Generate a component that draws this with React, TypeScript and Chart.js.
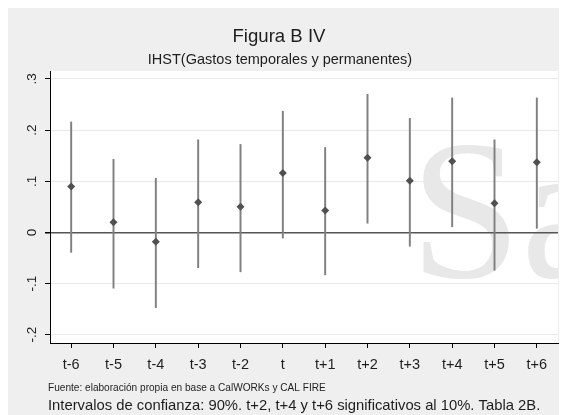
import React, { useEffect, useRef } from "react";
import { Chart, registerables } from "chart.js";

Chart.register(...registerables);

const periods = ["t-6", "t-5", "t-4", "t-3", "t-2", "t", "t+1", "t+2", "t+3", "t+4", "t+5", "t+6"];
const estimates = [0.09, 0.02, -0.018, 0.059, 0.05, 0.116, 0.043, 0.146, 0.101, 0.139, 0.057, 0.137];
const lowerCI = [-0.039, -0.109, -0.147, -0.069, -0.077, -0.011, -0.083, 0.018, -0.027, 0.011, -0.074, 0.008];
const upperCI = [0.216, 0.143, 0.106, 0.181, 0.172, 0.237, 0.166, 0.27, 0.223, 0.263, 0.181, 0.263];
const yTickValues = [-0.2, -0.1, 0, 0.1, 0.2, 0.3];
const yTickLabels = ["-.2", "-.1", "0", ".1", ".2", ".3"];
const titleText = "Figura B IV";
const subtitleText = "IHST(Gastos temporales y permanentes)";
const sourceNote = "Fuente: elaboración propia en base a CalWORKs y CAL FIRE";
const ciNote = "Intervalos de confianza: 90%. t+2, t+4 y t+6 significativos al 10%. Tabla 2B.";
const watermarkText = "Sa";

const SANS = '"Liberation Sans", Arial, sans-serif';
const TEXT = "#1e1e1e";

const decorPlugin = {
  id: "decor",
  beforeDraw(chart: any) {
    const { ctx, chartArea: a, width, height } = chart;
    ctx.save();
    ctx.fillStyle = "#efefef";
    ctx.fillRect(0, 0, width, height);
    ctx.fillStyle = "#ffffff";
    ctx.fillRect(a.left, a.top, a.right - a.left, a.bottom - a.top);
    ctx.beginPath();
    ctx.rect(a.left, a.top, a.right - a.left, a.bottom - a.top);
    ctx.clip();
    ctx.fillStyle = "#e8e8e8";
    ctx.font = '200px "Liberation Serif", "Times New Roman", serif';
    ctx.textBaseline = "alphabetic";
    ctx.textAlign = "left";
    ctx.fillText(watermarkText, 402, 269);
    ctx.restore();
  },
  afterDraw(chart: any) {
    const { ctx } = chart;
    const ys = chart.scales.y;
    ctx.save();
    ctx.fillStyle = TEXT;
    ctx.textAlign = "center";
    ctx.textBaseline = "middle";
    ctx.font = `18.6px ${SANS}`;
    ctx.fillText(titleText, 271, 29);
    ctx.font = `14.5px ${SANS}`;
    ctx.fillText(subtitleText, 272, 52);

    ctx.textAlign = "left";
    ctx.font = `10.1px ${SANS}`;
    ctx.fillText(sourceNote, 40, 380);
    ctx.font = `14.8px ${SANS}`;
    ctx.fillText(ciNote, 40, 398);

    ctx.font = `13.5px ${SANS}`;
    yTickValues.forEach((v, i) => {
      const y = ys.getPixelForValue(v);
      ctx.save();
      ctx.translate(24, y);
      ctx.rotate(-Math.PI / 2);
      ctx.textAlign = "center";
      ctx.textBaseline = "middle";
      ctx.fillText(yTickLabels[i], 0, 0);
      ctx.restore();
    });
    ctx.restore();
  },
};

export default function App() {
  const ref = useRef<HTMLCanvasElement | null>(null);
  useEffect(() => {
    if (!ref.current) return;
    const chart = new Chart(ref.current, {
      type: "bar",
      data: {
        labels: periods,
        datasets: [
          {
            type: "line",
            data: estimates,
            showLine: false,
            pointStyle: "rectRot",
            pointRadius: 4,
            pointBackgroundColor: "#505050",
            pointBorderColor: "#505050",
            pointBorderWidth: 0,
            order: 1,
          } as any,
          {
            type: "bar",
            data: lowerCI.map((l, i) => [l, upperCI[i]]),
            backgroundColor: "#808080",
            borderWidth: 0,
            barThickness: 1.3,
            order: 2,
          } as any,
        ],
      },
      options: {
        responsive: false,
        animation: false,
        devicePixelRatio: 1,
        layout: { padding: { top: 63, right: 8, bottom: 0, left: 0 } },
        plugins: {
          legend: { display: false },
          tooltip: { enabled: false },
          title: { display: false },
        },
        scales: {
          x: {
            offset: true,
            grid: {
              offset: false,
              drawOnChartArea: false,
              drawTicks: true,
              tickLength: 5,
              tickColor: "#000",
            },
            border: { display: true, color: "#000", width: 1 },
            ticks: {
              color: TEXT,
              font: { family: SANS, size: 14.5 },
              padding: 8,
              maxRotation: 0,
              minRotation: 0,
            },
            afterFit(scale: any) {
              scale.height = 72;
            },
          },
          y: {
            min: -0.2162,
            max: 0.3156,
            afterBuildTicks(scale: any) {
              scale.ticks = yTickValues.map((v) => ({ value: v }));
            },
            afterFit(scale: any) {
              scale.width = 42;
            },
            grid: {
              color: (c: any) => (c.tick && c.tick.value === 0 ? "#555555" : "#e9e9e9"),
              lineWidth: (c: any) => (c.tick && c.tick.value === 0 ? 1.5 : 1),
              tickColor: "#000",
              tickLength: 5,
              drawTicks: true,
            },
            border: { display: true, color: "#000", width: 1 },
            ticks: { display: false },
          },
        },
      } as any,
      plugins: [decorPlugin],
    });
    return () => chart.destroy();
  }, []);
  return (
    <div style={{ width: 558, height: 407 }}>
      <canvas ref={ref} width={558} height={407} style={{ display: "block", width: 558, height: 407 }} />
    </div>
  );
}
